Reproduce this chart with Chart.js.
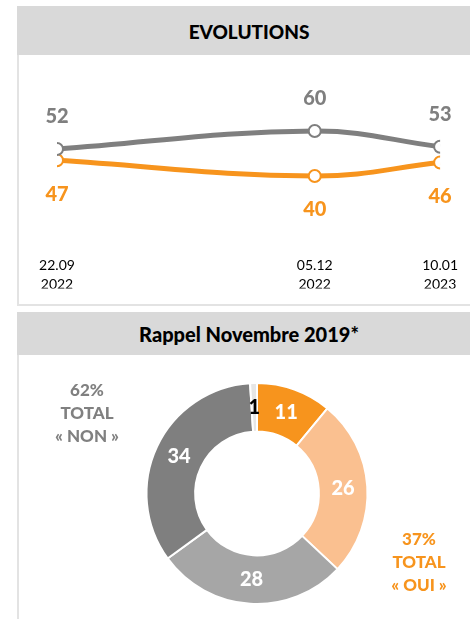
<!DOCTYPE html>
<html>
<head>
<meta charset="utf-8">
<script src="https://cdn.jsdelivr.net/npm/chart.js@4"></script>
<style>
body { margin: 0; width: 470px; height: 619px; background: #fff; font-family: Lato, sans-serif; position: relative; overflow: hidden; }
.head { position: absolute; left: 17px; width: 464px; background: #d9d9d9; font-weight: 900; color: #000; text-align: center; }
.frame { position: absolute; left: 17px; width: 460px; border-left: 2px solid #e3e3e3; }
canvas { position: absolute; }
.side { position: absolute; width: 120px; text-align: center; font-weight: 900; font-size: 17px; line-height: 23px; }
</style>
</head>
<body>
<div class="frame" style="top:55px;height:249px;border-bottom:2px solid #e3e3e3"></div>
<div class="head" style="top:6px;height:49px;line-height:51px;font-size:19px">EVOLUTIONS</div>
<canvas id="Evolutions" width="451" height="249" style="left:19px;top:55px"></canvas>

<div class="frame" style="top:355px;height:280px"></div>
<div class="head" style="top:312px;height:43px;line-height:45px;font-size:20px">Rappel Novembre 2019*</div>
<canvas id="Rappel" width="451" height="264" style="left:19px;top:355px"></canvas>
<div class="side" style="left:27px;top:378px;color:#808080">62%<br>TOTAL<br>« NON »</div>
<div class="side" style="left:359px;top:527px;color:#f7941d">37%<br>TOTAL<br>« OUI »</div>

<script>
var dates = ['2022-09-22', '2022-12-05', '2023-01-10'];
var tickLabels = [['22.09', '2022'], ['05.12', '2022'], ['10.01', '2023']];
var nonValues = [52, 60, 53];
var ouiValues = [47, 40, 46];

var rappelLabels = ['Oui, tout à fait', 'Oui, plutôt', 'Non, plutôt pas', 'Non, pas du tout', 'Ne se prononce pas'];
var rappelValues = [11, 26, 28, 34, 1];

var GRAY = '#7f7f7f';
var ORANGE = '#f7941d';

// x axis in days since first wave, so the gaps follow the calendar
var t0 = Date.parse(dates[0]);
var days = dates.map(function (d) { return (Date.parse(d) - t0) / 86400000; });

function points(values) {
  return values.map(function (v, i) { return { x: days[i], y: v }; });
}

var valueLabels = {
  id: 'valueLabels',
  afterDatasetsDraw: function (chart) {
    var ctx = chart.ctx;
    ctx.save();
    ctx.font = '900 20px Lato';
    ctx.textAlign = 'center';
    ctx.textBaseline = 'middle';
    chart.data.datasets.forEach(function (ds, i) {
      chart.getDatasetMeta(i).data.forEach(function (pt, j) {
        ctx.fillStyle = ds.borderColor;
        ctx.fillText(ds.data[j].y, pt.x, pt.y + ds.labelOffset);
      });
    });
    ctx.restore();
  }
};

var non = {
  label: 'Non',
  data: points(nonValues),
  borderColor: GRAY,
  borderWidth: 5,
  tension: 0.4,
  pointRadius: 6,
  pointBorderWidth: 2,
  pointBackgroundColor: '#fff',
  pointBorderColor: GRAY,
  labelOffset: -32
};

var oui = {
  label: 'Oui',
  data: points(ouiValues),
  borderColor: ORANGE,
  borderWidth: 5,
  tension: 0.4,
  pointRadius: 6,
  pointBorderWidth: 2,
  pointBackgroundColor: '#fff',
  pointBorderColor: ORANGE,
  labelOffset: 34
};

new Chart(document.getElementById('Evolutions'), {
  type: 'line',
  data: { datasets: [non, oui] },
  options: {
    responsive: false,
    animation: false,
    layout: { padding: { left: 38, right: 25, top: 31, bottom: 15.5 } },
    plugins: { legend: { display: false }, tooltip: { enabled: false } },
    scales: {
      x: {
        type: 'linear',
        min: 0,
        max: days[days.length - 1],
        grid: { display: false, drawTicks: false },
        border: { display: false },
        afterBuildTicks: function (axis) {
          axis.ticks = days.map(function (d) { return { value: d }; });
        },
        afterFit: function (axis) { axis.height = 45; },
        ticks: {
          autoSkip: false,
          maxRotation: 0,
          padding: 12,
          color: '#000',
          font: { family: 'Lato', size: 14, lineHeight: 1.36 },
          callback: function (v, i) { return tickLabels[i]; }
        }
      },
      y: { display: false, min: 10, max: 80 }
    }
  },
  plugins: [valueLabels]
});

var sliceLabels = {
  id: 'sliceLabels',
  afterDatasetsDraw: function (chart) {
    var ctx = chart.ctx;
    var ds = chart.data.datasets[0];
    ctx.save();
    ctx.font = '900 20px Lato';
    ctx.textAlign = 'center';
    ctx.textBaseline = 'middle';
    chart.getDatasetMeta(0).data.forEach(function (arc, i) {
      var p = arc.tooltipPosition();
      ctx.fillStyle = ds.labelColors[i];
      ctx.fillText(ds.data[i], p.x, p.y);
    });
    ctx.restore();
  }
};

new Chart(document.getElementById('Rappel'), {
  type: 'doughnut',
  data: {
    labels: rappelLabels,
    datasets: [{
      data: rappelValues,
      backgroundColor: [ORANGE, '#fac090', '#a6a6a6', GRAY, '#e6e6e6'],
      labelColors: ['#fff', '#fff', '#fff', '#fff', '#000'],
      borderColor: '#fff',
      borderWidth: 2
    }]
  },
  options: {
    responsive: false,
    animation: false,
    cutout: '56%',
    layout: { padding: { left: 126.5, right: 101.5, top: 27, bottom: 14 } },
    plugins: { legend: { display: false }, tooltip: { enabled: false } }
  },
  plugins: [sliceLabels]
});
</script>
</body>
</html>
